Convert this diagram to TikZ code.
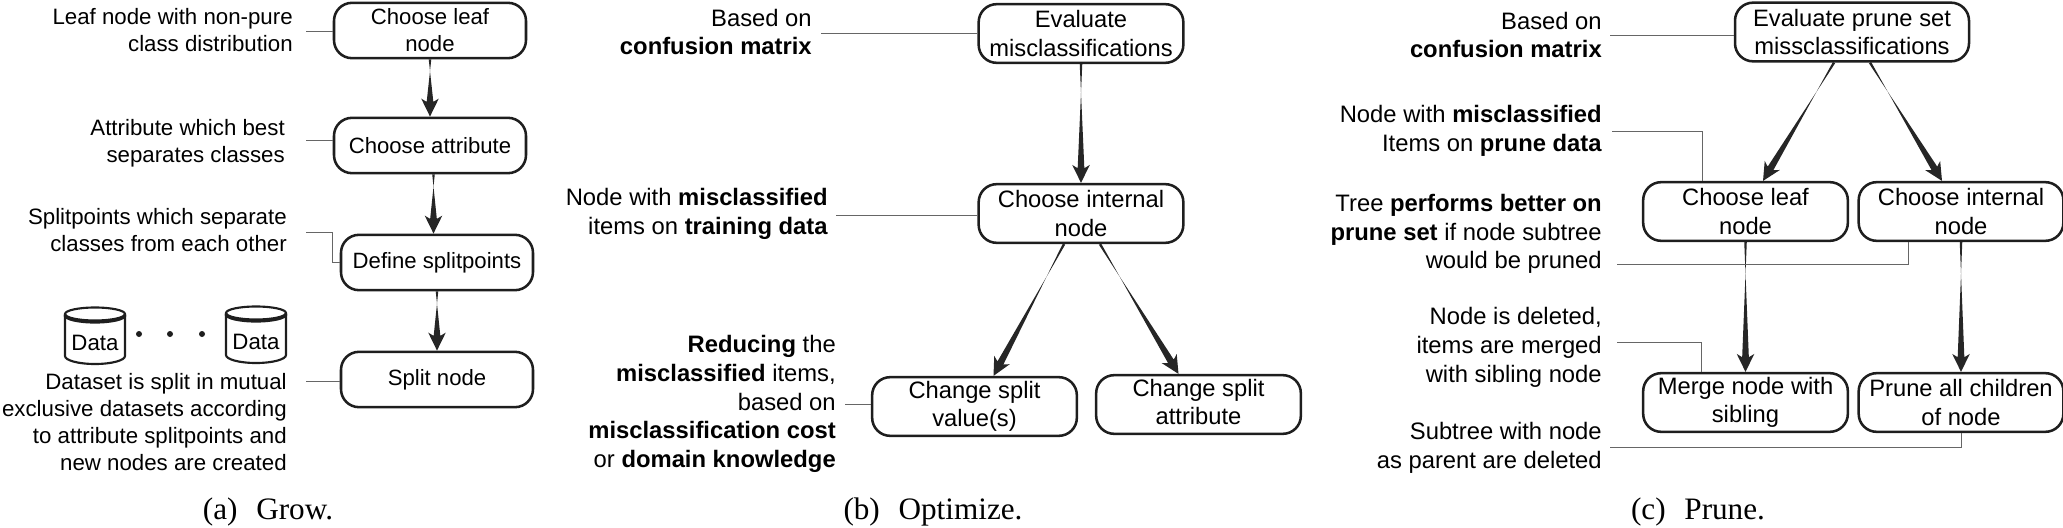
\documentclass[tikz,border=0pt]{standalone}
\usepackage{fontspec}
\setmainfont{Liberation Sans}
\newfontfamily\capfont{Liberation Serif}
\usetikzlibrary{calc}
\definecolor{arrowink}{HTML}{262626}
\definecolor{leaderink}{HTML}{666666}
\definecolor{boxink}{HTML}{1E1E1E}
\newcommand{\tarrow}[2]{%
  \coordinate (tA) at (#1);\coordinate (tB) at (#2);
  \fill[arrowink]
    ($(tA)!0.95pt!90:(tB)$) -- ($(tB)!11pt!(tA)!2.5pt!-90:(tB)$) -- ($(tB)!13.5pt!(tA)!6.6pt!-90:(tB)$) --
    (tB) -- ($(tB)!13.5pt!(tA)!6.6pt!90:(tB)$) -- ($(tB)!11pt!(tA)!2.5pt!90:(tB)$) -- ($(tA)!0.95pt!-90:(tB)$) -- cycle;}
\newcommand{\upnudge}{\\[-17.5pt]\mbox{}}
\tikzset{
  x=0.75pt,y=-0.75pt,
  boxa/.style={draw=boxink,line width=1.9pt,rounded corners=13.5pt,inner sep=0pt,minimum width=144pt,minimum height=41.5pt,align=center,font=\fontsize{16.6}{20.25}\selectfont},
  boxb/.style={boxa,minimum width=153.5pt,minimum height=44pt,font=\fontsize{17.8}{21.4}\selectfont},
  labela/.style={anchor=east,align=right,inner sep=0pt,font=\fontsize{16.7}{20.25}\selectfont},
  labelb/.style={anchor=east,align=right,inner sep=0pt,font=\fontsize{17.85}{21.6}\selectfont},
  leader/.style={draw=leaderink,line width=0.5pt},
  capnode/.style={inner sep=0pt,font=\capfont\fontsize{23.4}{27}\selectfont},
  datatext/.style={inner sep=0pt,font=\fontsize{16.7}{20}\selectfont},
  dotmark/.style={circle,fill=boxink,inner sep=0pt,minimum size=4.5pt},
  cyl/.style={draw=boxink,line width=1.6pt}
}
\newcommand{\datacyl}[2]{%
  \draw[cyl] (#1-30,#2+8) -- (#1-30,#2+50) arc[start angle=180,end angle=0,x radius=30,y radius=8] -- (#1+30,#2+8);
  \draw[cyl] (#1,#2+8) ellipse[x radius=30,y radius=6.5];
  \draw[cyl,line width=2.4pt] (#1-30,#2+9) arc[start angle=180,end angle=0,x radius=30,y radius=7];}
\newcommand{\B}[1]{\textbf{#1}}
\begin{document}
\begin{tikzpicture}
\useasboundingbox (0,0) rectangle (2063,528);
% panel a
\node[boxa] (a1) at (430,30.5) {Choose leaf\\node};
\node[boxa] (a2) at (430,145.5) {Choose attribute};
\node[boxa] (a3) at (437,262.5) {Define splitpoints};
\node[boxa] (a4) at (437,379.5) {Split node};
\node[labela] (la1) at (293,30.5) {Leaf node with non-pure\\class distribution};
\node[labela] (la2) at (285,143) {Attribute which best\\separates classes};
\node[labela] (la3) at (287,230) {Splitpoints which separate\\classes from each other};
\node[labela] (la4) at (287,422) {Dataset is split in mutual\\exclusive datasets according\\to attribute splitpoints and\\new nodes are created};
\tarrow{a1.south}{a2.north}
\tarrow{$(a2.south)+(3.5,0)$}{$(a3.north)+(-3.5,0)$}
\tarrow{a3.south}{a4.north}
\coordinate (fa1) at (306,31);
\coordinate (fa2) at (306,140);
\coordinate (fa3) at (306,232);
\coordinate (fa3b) at (332,232);
\coordinate (fa4) at (306,381);
\draw[leader] (fa1) -- (fa1-|a1.west);
\draw[leader] (fa2) -- (fa2-|a2.west);
\draw[leader] (fa3) -- (fa3b) |- (a3.west);
\draw[leader] (fa4) -- (fa4-|a4.west);
\datacyl{95}{306}
\datacyl{256}{305}
\node[datatext] (d1) at (95,343) {Data};
\node[datatext] (d2) at (256,342) {Data};
\node[dotmark] (p1) at (139,334) {};
\node[dotmark] (p2) at (170,334) {};
\node[dotmark] (p3) at (202,334) {};
\node[capnode] (ca) at (268,512) {(a)\hspace{0.6em}Grow.};
% panel b
\node[boxb] (b1) at (1081,33.5) {Evaluate\\misclassifications};
\node[boxb] (b2) at (1081,213.5) {Choose internal\\node};
\node[boxb] (b3) at (974.5,406.5) {Change split\\value(s)\upnudge};
\node[boxb] (b4) at (1198.5,404.5) {Change split\\attribute\upnudge};
\node[labelb] (lb1) at (812,32) {Based on\\\B{confusion matrix}};
\node[labelb] (lb2) at (828,214) {Node with \B{misclassified}\\items on \B{training data}};
\node[labelb] (lb3) at (836,404) {\B{Reducing} the\\\B{misclassified} items,\\based on\\\B{misclassification cost}\\or \B{domain knowledge}};
\tarrow{b1.south}{b2.north}
\tarrow{$(b2.south)+(-17,0)$}{$(b3.north)+(19,0)$}
\tarrow{$(b2.south)+(19,0)$}{$(b4.north)+(-20,0)$}
\coordinate (fb1) at (821,33);
\coordinate (fb2) at (836,215);
\coordinate (fb3) at (845,404);
\draw[leader] (fb1) -- (fb1-|b1.west);
\draw[leader] (fb2) -- (fb2-|b2.west);
\draw[leader] (fb3) -- (fb3-|b3.west);
\node[capnode] (cb) at (933,512) {(b)\hspace{0.6em}Optimize.};
% panel c
\node[boxb,minimum width=175.5pt] (c1) at (1852,32) {Evaluate prune set\\missclassifications};
\node[boxb] (c2) at (1745.5,211.5) {Choose leaf\\node};
\node[boxb] (c3) at (1961,211.5) {Choose internal\\node};
\node[boxb] (c4) at (1745.5,402.5) {Merge node with\\sibling};
\node[boxb] (c5) at (1961,402.5) {Prune all children\\of node};
\node[labelb] (lc1) at (1602,35) {Based on\\\B{confusion matrix}};
\node[labelb] (lc2) at (1602,131) {Node with \B{misclassified}\\Items on \B{prune data}};
\node[labelb] (lc3) at (1602,234) {Tree \B{performs better on}\\\B{prune set} if node subtree\\would be pruned};
\node[labelb] (lc4) at (1602,347.5) {Node is deleted,\\items are merged\\with sibling node};
\node[labelb] (lc5) at (1602,447.5) {Subtree with node\\as parent are deleted};
\tarrow{$(c1.south)+(-18,0)$}{$(c2.north)+(17.5,0)$}
\tarrow{$(c1.south)+(18,0)$}{$(c3.north)+(-19,0)$}
\tarrow{c2.south}{c4.north}
\tarrow{c3.south}{c5.north}
\coordinate (fc1) at (1610,35);
\coordinate (fc2) at (1612,131);
\coordinate (fc3) at (1617,264);
\coordinate (fc4) at (1617,342);
\coordinate (fc5) at (1610,447);
\draw[leader] (fc1) -- (fc1-|c1.west);
\draw[leader] (fc2) -| ($(c2.north)+(-43.5,0)$);
\draw[leader] (fc3) -| ($(c2.south)+(162.5,0)$);
\draw[leader] (fc4) -| ($(c4.north)+(-44.5,0)$);
\draw[leader] (fc5) -| (c5.south);
\node[capnode] (cc) at (1698,512) {(c)\hspace{0.6em}Prune.};
\end{tikzpicture}
\end{document}
